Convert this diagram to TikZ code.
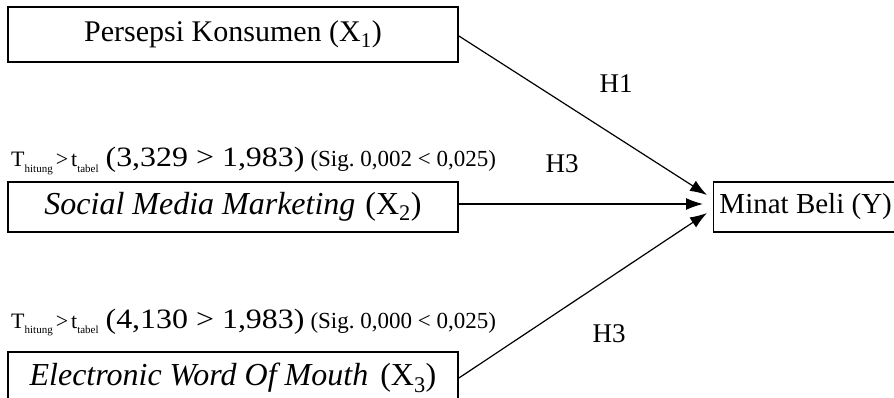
\documentclass[tikz,border=0pt]{standalone}
\usepackage{graphicx}
\usepackage{fontspec}
\setmainfont{Liberation Serif}
\usetikzlibrary{arrows.meta}
\newcommand{\lowtxt}[1]{\raisebox{-0.25em}{\fontsize{11}{11}\selectfont #1}}
\newcommand{\ttest}[2]{{\fontsize{22}{24}\selectfont T\lowtxt{hitung}\hspace{3pt}>\hspace{3pt}t\lowtxt{tabel}}\hspace{7pt}\scalebox{1.14}[1]{\fontsize{28}{30}\selectfont (#1 > 1,983)}\hspace{6pt}{\fontsize{23}{26}\selectfont (Sig.\ #2 < 0,025)}}

\begin{document}
\begin{tikzpicture}[x=1pt, y=-1pt, var/.style={draw, line width=1.8pt, minimum width=450pt, minimum height=52pt, inner sep=0pt, font=\fontsize{32}{36}\selectfont}, lbl/.style={inner sep=0pt, font=\fontsize{27}{30}\selectfont}, note/.style={inner sep=0pt, anchor=base west}, >={Latex[length=17pt,width=12pt]}]
            \clip (0,0) rectangle (894,398);
            \node[var, minimum height=55pt, font=\fontsize{30}{34}\selectfont] (x1) at (233,34.5) {Persepsi Konsumen (X\textsubscript{1})};
            \node[var, minimum height=50pt] (x2) at (233,207) {\textit{Social Media Marketing}\hspace{10pt}(X\textsubscript{2})};
            \node[var] (x3) at (233,378) {\textit{Electronic Word Of Mouth}\hspace{12pt}(X\textsubscript{3})};
            \node[draw, line width=1.3pt, minimum width=184pt, minimum height=50pt, anchor=west, font=\fontsize{29}{34}\selectfont] (y) at (713,207) {Minat Beli (Y)};

            \node[note] (t2) at (11,167) {\ttest{3,329}{0,002}};
            \node[note] (t3) at (11,328) {\ttest{4,130}{0,000}};

            \node[lbl] (h1) at (616,84) {H1};
            \node[lbl] (h3a) at (562,164) {H3};
            \node[lbl] (h3b) at (609,334) {H3};

            \coordinate (e1) at (707,195);
            \coordinate (e2) at (703,204);
            \coordinate (e3) at (707,213);
            \draw[line width=1.2pt, ->] ([yshift=-1.5pt]x1.east) -- (e1);
            \draw[line width=1.2pt, ->] (x2.east |- e2) -- (e2);
            \draw[line width=1.2pt, ->] (x3.east) -- (e3);
\end{tikzpicture}
\end{document}
